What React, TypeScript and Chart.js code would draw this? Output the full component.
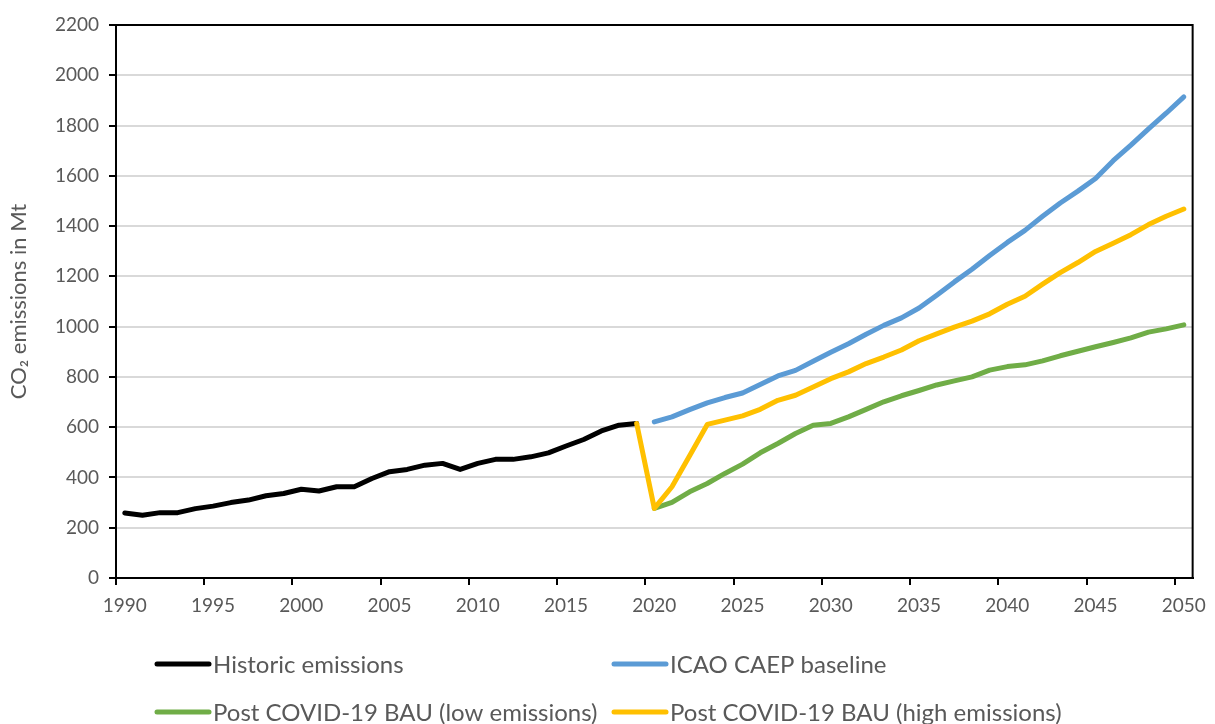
import React, { useEffect, useRef } from "react";
import { Chart, registerables } from "chart.js";

Chart.register(...registerables);

const FIRST_YEAR = 1990;
const LAST_YEAR = 2050;
const years: string[] = [];
for (let y = FIRST_YEAR; y <= LAST_YEAR; y++) years.push(String(y));

// 1990–2019
const historic = [259, 250, 260, 260, 276, 286, 300, 310, 327, 336, 353, 346, 363, 363, 396, 423, 432, 449, 456, 432, 456, 472, 472, 482, 498, 525, 551, 585, 608, 615];
// 2020–2050
const icaoBaseline = [621, 641, 670, 697, 718, 736, 770, 804, 826, 862, 898, 932, 970, 1005, 1035, 1074, 1125, 1178, 1228, 1283, 1335, 1383, 1439, 1492, 1539, 1589, 1660, 1722, 1787, 1849, 1914];
// 2020–2050
const bauLow = [277, 301, 343, 376, 416, 453, 498, 535, 575, 608, 615, 641, 671, 701, 725, 746, 768, 784, 800, 827, 841, 848, 864, 884, 902, 920, 937, 955, 978, 991, 1007];
// 2019–2050
const bauHigh = [615, 277, 363, 486, 611, 628, 645, 671, 707, 727, 760, 793, 820, 853, 879, 907, 944, 971, 998, 1022, 1051, 1089, 1121, 1169, 1215, 1255, 1299, 1332, 1366, 1406, 1439, 1468];

const seriesNames = ["Historic emissions", "ICAO CAEP baseline", "Post COVID-19 BAU (low emissions)", "Post COVID-19 BAU (high emissions)"];
const seriesColors = ["#000000", "#5B9BD5", "#70AD47", "#FFC000"];

function placeFrom(startYear: number, values: number[]): (number | null)[] {
  return years.map((y) => {
    const i = Number(y) - startYear;
    return i >= 0 && i < values.length ? values[i] : null;
  });
}

const FONT = "Lato, 'Liberation Sans', sans-serif";
const TEXT = "#595959";

const boxPlugin = {
  id: "plotBox",
  afterDraw(chart: any) {
    const { ctx, chartArea: a } = chart;
    ctx.save();
    ctx.strokeStyle = "#000";
    ctx.lineWidth = 2;
    ctx.beginPath();
    ctx.moveTo(a.left, a.top);
    ctx.lineTo(a.right, a.top);
    ctx.lineTo(a.right, a.bottom);
    ctx.stroke();
    ctx.restore();
  },
};

const legendPlugin = {
  id: "gridLegend",
  afterDraw(chart: any) {
    const { ctx, chartArea: a } = chart;
    const cols = [a.left + 39, a.left + 496];
    const rows = [a.bottom + 86, a.bottom + 134];
    ctx.save();
    ctx.font = `24px ${FONT}`;
    ctx.textBaseline = "middle";
    ctx.textAlign = "left";
    seriesNames.forEach((name, i) => {
      const x = cols[i % 2];
      const y = rows[Math.floor(i / 2)];
      ctx.strokeStyle = seriesColors[i];
      ctx.lineWidth = 5;
      ctx.lineCap = "round";
      ctx.beginPath();
      ctx.moveTo(x + 2, y);
      ctx.lineTo(x + 54, y);
      ctx.stroke();
      ctx.fillStyle = TEXT;
      ctx.fillText(name, x + 58, y + 1);
    });
    ctx.restore();
  },
};

export default function App() {
  const ref = useRef<HTMLCanvasElement | null>(null);
  useEffect(() => {
    if (!ref.current) return;
    const ds = [
      { data: placeFrom(1990, historic), order: 4 },
      { data: placeFrom(2020, icaoBaseline), order: 3 },
      { data: placeFrom(2020, bauLow), order: 2 },
      { data: placeFrom(2019, bauHigh), order: 1 },
    ].map((d, i) => ({
      label: seriesNames[i],
      data: d.data,
      order: d.order,
      borderColor: seriesColors[i],
      backgroundColor: seriesColors[i],
      borderWidth: 5,
      pointRadius: 0,
      pointHoverRadius: 0,
      tension: 0,
      borderCapStyle: "round" as const,
      borderJoinStyle: "round" as const,
      spanGaps: false,
    }));
    const chart = new Chart(ref.current, {
      type: "line",
      data: { labels: years, datasets: ds },
      options: {
        responsive: false,
        animation: false,
        devicePixelRatio: 1,
        layout: { padding: { left: 0, top: 25, right: 18, bottom: 0 } },
        plugins: { legend: { display: false }, tooltip: { enabled: false } },
        scales: {
          x: {
            type: "category",
            offset: true,
            afterFit: (s: any) => {
              s.height = 146;
            },
            grid: {
              offset: true,
              drawOnChartArea: false,
              drawTicks: true,
              tickLength: 7,
              lineWidth: 2,
              color: (c: any) => (c.index % 5 === 0 && c.index <= 60 ? "#000" : "rgba(0,0,0,0)"),
            },
            border: { color: "#000", width: 2 },
            ticks: {
              autoSkip: false,
              maxRotation: 0,
              minRotation: 0,
              color: TEXT,
              padding: 9,
              font: { family: FONT, size: 19 },
              callback: (_v: any, i: number) => (i % 5 === 0 ? years[i] : ""),
            },
          },
          y: {
            min: 0,
            max: 2200,
            afterFit: (s: any) => {
              s.width = 116;
            },
            grid: { color: "#d9d9d9", lineWidth: 2, tickColor: "#000", tickLength: 7, drawTicks: true },
            border: { color: "#000", width: 2 },
            ticks: {
              stepSize: 200,
              color: TEXT,
              padding: 10,
              font: { family: FONT, size: 19 },
              callback: (v: any) => String(v),
            },
            title: {
              display: true,
              text: "CO₂ emissions in Mt",
              color: TEXT,
              font: { family: FONT, size: 22 },
              padding: { top: 6, bottom: 0 },
            },
          },
        },
      },
      plugins: [boxPlugin, legendPlugin],
    });
    return () => chart.destroy();
  }, []);
  return (
    <div style={{ position: "absolute", left: 0, top: 0, width: 1215, height: 724, background: "#fff" }}>
      <canvas ref={ref} width={1215} height={724} style={{ display: "block" }} />
    </div>
  );
}
